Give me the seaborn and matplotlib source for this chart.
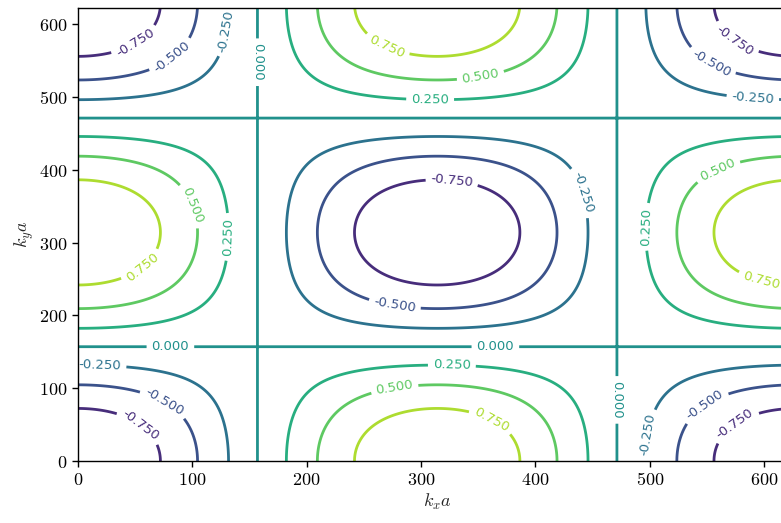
import numpy as np
import matplotlib
matplotlib.use("Agg")
import matplotlib.pyplot as plt
import seaborn as sns
from matplotlib.ticker import FuncFormatter

# wave-vector grid (k a, scaled by 100) and band energy on it
ka = np.linspace(0, 2 * np.pi, 400) * 100
levels = [-0.75, -0.5, -0.25, 0.0, 0.25, 0.5, 0.75]
xticks = [0, 100, 200, 300, 400, 500, 600]
yticks = [0, 100, 200, 300, 400, 500, 600]

KX, KY = np.meshgrid(ka, ka)
energy = -np.cos(KX / 100) * np.cos(KY / 100)

# where the contour labels sit (data coords)
label_pos = [
    (50, 576), (81, 558), (129, 591), (157.7, 548),
    (270, 569), (352, 529), (308, 499),
    (574, 577), (554, 547), (590, 499),
    (101, 352), (131, 308), (56, 267),
    (327, 385), (277, 214), (443, 370),
    (559, 401), (494, 322), (598, 252),
    (81, 157), (365, 158),
    (19.6, 132), (75.5, 81), (54.5, 49),
    (327, 132), (277, 100), (362, 58),
    (472, 84), (498, 36), (548, 77), (574, 52),
]

sns.set_theme(style="ticks")
plt.rcParams["font.family"] = ["DejaVu Sans"]
plt.rcParams["mathtext.fontset"] = "cm"
plt.rcParams["xtick.labelsize"] = 13
plt.rcParams["ytick.labelsize"] = 13

fig = plt.figure(figsize=(7.81, 5.23), dpi=100)
# axes run past the right edge of the figure, as in the reference crop
ax = fig.add_axes([0.0995, 0.1185, 0.9201, 0.8662])

cmap = sns.color_palette("viridis", as_cmap=True)
cs = ax.contour(KX, KY, energy, levels=levels, cmap=cmap,
                vmin=-1, vmax=1, linewidths=2)

ax.set_xlim(0, 628)
ax.set_ylim(0, 622.5)
ax.clabel(cs, inline=True, fontsize=9.5, fmt="%1.3f", manual=label_pos)

ax.set_xticks(xticks)
ax.set_yticks(yticks)
fmt = FuncFormatter(lambda v, p: f"${v:g}$")
ax.xaxis.set_major_formatter(fmt)
ax.yaxis.set_major_formatter(fmt)
ax.tick_params(direction="out", length=4, width=1, colors="black")
for s in ax.spines.values():
    s.set_color("black")
    s.set_linewidth(1)
ax.set_xlabel(r"$k_xa$", fontsize=13, labelpad=2)
ax.set_ylabel(r"$k_ya$", fontsize=13, labelpad=2)

fig.savefig("out.png", dpi=100)
